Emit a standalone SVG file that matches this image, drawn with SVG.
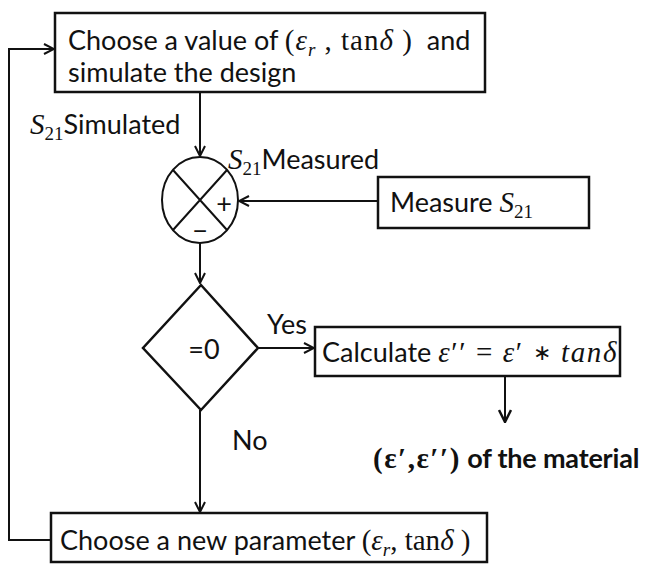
<svg xmlns="http://www.w3.org/2000/svg" width="647" height="564" viewBox="0 0 647 564">
<defs>
<style>
.t{font-family:Lato,"Open Sans","Liberation Sans",sans-serif;font-size:27px;fill:#111}
.m{font-family:"Liberation Serif",serif;font-size:29px}
.s{font-family:"Liberation Serif",serif;font-size:19px}
.i{font-style:italic}
.b{font-weight:bold}
.box{fill:#fff;stroke:#111;stroke-width:2.5}
.ln{fill:none;stroke:#111;stroke-width:2}
</style>
<marker id="ah" viewBox="0 0 12 12" refX="11" refY="6" markerWidth="12" markerHeight="12" markerUnits="userSpaceOnUse" orient="auto">
<path d="M1,1 L11,6 L1,11" fill="none" stroke="#111" stroke-width="2"/>
</marker>
<marker id="ah2" viewBox="0 0 14 14" refX="13" refY="7" markerWidth="14" markerHeight="14" markerUnits="userSpaceOnUse" orient="auto">
<path d="M1,1 L13,7 L1,13" fill="none" stroke="#111" stroke-width="2.5"/>
</marker>
</defs>
<g id="connectors">
<path class="ln" d="M200,92 V156" marker-end="url(#ah)"/>
<path class="ln" d="M378,201 H239" marker-end="url(#ah)"/>
<path class="ln" d="M200,243 V283" marker-end="url(#ah)"/>
<path class="ln" d="M258,348 H314" marker-end="url(#ah)"/>
<path class="ln" d="M505,376 V422" stroke-width="3" marker-end="url(#ah2)"/>
<path class="ln" d="M200,410 V512" marker-end="url(#ah)"/>
<path class="ln" d="M51,540 H9 V49 H54" marker-end="url(#ah)"/>
</g>
<g id="n-choose">
<rect class="box" x="55" y="13" width="430" height="79"/>
<text class="t" x="68" y="50">Choose a value of <tspan class="m" letter-spacing="1">(<tspan class="i">ε</tspan><tspan class="s i" dy="6">r</tspan><tspan dy="-6"> , tan</tspan><tspan class="i">δ</tspan> )</tspan>&#160; and</text>
<text class="t" x="68" y="82">simulate the design</text>
</g>
<g id="l-simulated">
<text class="t" x="30" y="134"><tspan class="m i">S</tspan><tspan class="s" dy="6">21</tspan><tspan dy="-6">Simulated</tspan></text>
</g>
<g id="n-sum">
<ellipse class="ln" cx="200" cy="200" rx="38" ry="43" fill="#fff"/>
<path class="ln" d="M173,170 L227,230 M227,170 L173,230"/>
<text class="t" x="224" y="213" text-anchor="middle" font-size="22">+</text>
<text class="t" x="200" y="240" text-anchor="middle" font-size="22">−</text>
</g>
<g id="l-measured">
<text class="t" x="228" y="169"><tspan class="m i">S</tspan><tspan class="s" dy="6">21</tspan><tspan dy="-6">Measured</tspan></text>
</g>
<g id="n-measure">
<rect class="box" x="378" y="177" width="211" height="51"/>
<text class="t" x="390" y="212">Measure <tspan class="m i">S</tspan><tspan class="s" dy="6">21</tspan></text>
</g>
<g id="n-decision">
<path class="box" d="M201,285 L258,348 L201,410 L143,348 Z"/>
<text class="t" x="204" y="359" text-anchor="middle">=0</text>
</g>
<g id="l-yes"><text class="t" x="267" y="334">Yes</text></g>
<g id="l-no"><text class="t" x="232" y="450">No</text></g>
<g id="n-calc">
<rect class="box" x="315" y="327" width="305" height="49" stroke-width="3"/>
<text class="t" x="322" y="362">Calculate <tspan class="m" font-size="30" letter-spacing="1.6"><tspan class="i">ε</tspan>′′ = <tspan class="i">ε</tspan>′ <tspan font-size="22" dy="-2">∗</tspan><tspan dy="2"> </tspan><tspan class="i">tanδ</tspan></tspan></text>
</g>
<g id="n-result">
<text class="t b" x="373" y="468"><tspan class="m" font-size="34" letter-spacing="1.5">(ε′,ε′′)</tspan><tspan font-size="27" letter-spacing="-0.2"> of the material</tspan></text>
</g>
<g id="n-new">
<rect class="box" x="51" y="513" width="436" height="49"/>
<text class="t" x="60" y="550">Choose a new parameter <tspan class="m">(<tspan class="i">ε</tspan><tspan class="s i" dy="6">r</tspan><tspan dy="-6">, tan</tspan><tspan class="i">δ</tspan> )</tspan></text>
</g>
</svg>
